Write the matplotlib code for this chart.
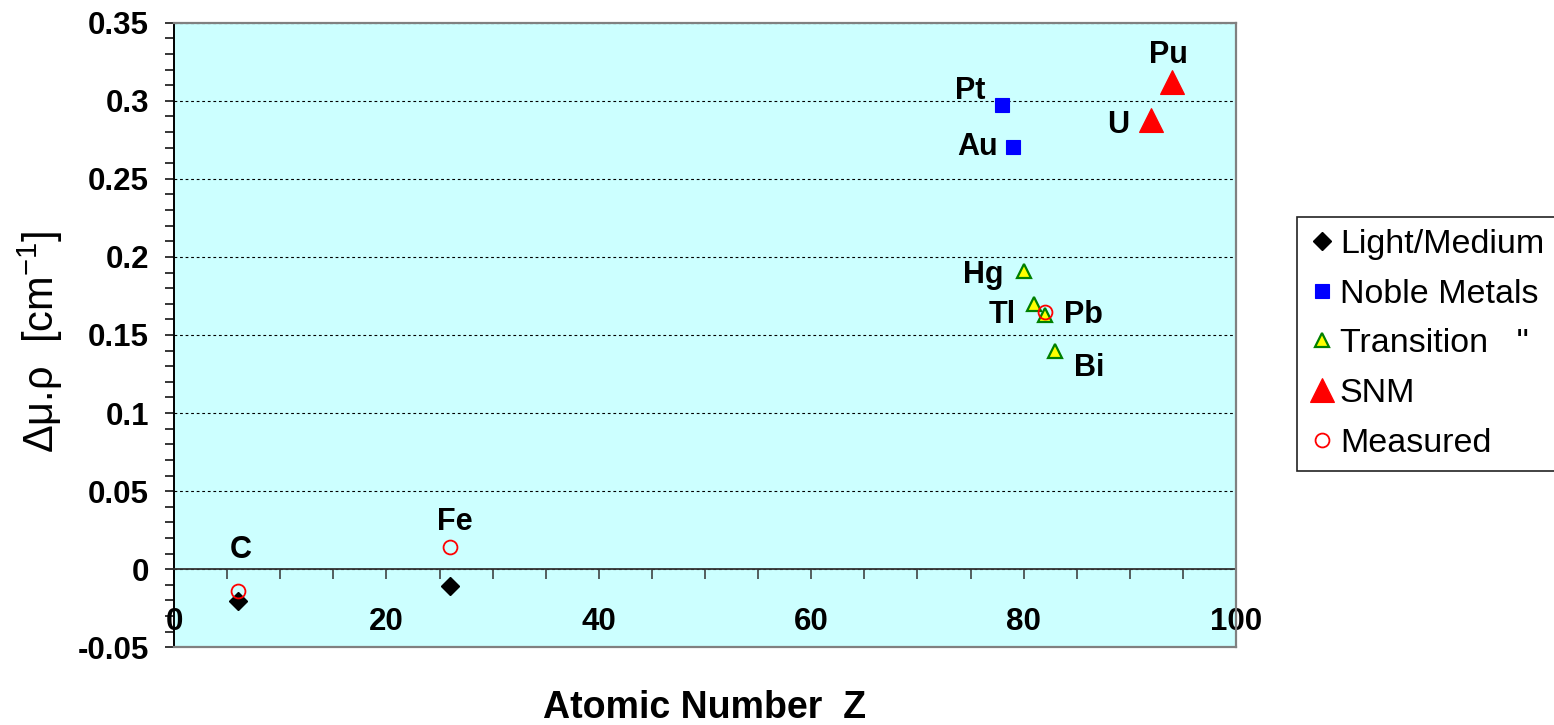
import matplotlib
matplotlib.use("Agg")
import matplotlib.pyplot as plt
from matplotlib.ticker import MultipleLocator, FuncFormatter

plt.rcParams['font.family'] = ['Liberation Sans', 'DejaVu Sans']
plt.rcParams['mathtext.fontset'] = 'custom'
plt.rcParams['mathtext.rm'] = 'Liberation Sans'
plt.rcParams['mathtext.it'] = 'Liberation Sans:italic'
plt.rcParams['mathtext.bf'] = 'Liberation Sans:bold'

# Light / medium elements
light_z = [6, 26]
light_val = [-0.0205, -0.0108]
# Noble metals (Pt, Au)
noble_z = [78, 79]
noble_val = [0.297, 0.2705]
# Transition metals (Hg, Tl, Pb, Bi)
trans_z = [80, 81, 82, 83]
trans_val = [0.191, 0.170, 0.1625, 0.1395]
# Special nuclear material (U, Pu)
snm_z = [92, 94]
snm_val = [0.288, 0.312]
# Measured values (C, Fe, Pb)
meas_z = [6, 26, 82]
meas_val = [-0.0138, 0.0142, 0.165]

series_names = ['Light/Medium', 'Noble Metals', 'Transition   "', 'SNM', 'Measured']
element_names = ['C', 'Fe', 'Pt', 'Au', 'Hg', 'Tl', 'Pb', 'Bi', 'U', 'Pu']

W, H, DPI = 1554, 725, 100
fig = plt.figure(figsize=(W / DPI, H / DPI), dpi=DPI)
ax = fig.add_axes([174 / W, 1 - 647.3 / H, (1236 - 174) / W, (647.3 - 22.7) / H])
ax.set_facecolor('#CCFFFF')

ax.set_xlim(0, 100)
ax.set_ylim(-0.05, 0.35)

# series
h1, = ax.plot(light_z, light_val, ls='none', marker='D', ms=9.5, mfc='black', mec='black', zorder=4)
h2, = ax.plot(noble_z, noble_val, ls='none', marker='s', ms=10.5, mfc='#0000FF', mec='#0000FF', mew=0.8, zorder=4)
h3, = ax.plot(trans_z, trans_val, ls='none', marker='^', ms=10.5, mfc='#FFFF00', mec='#008000', mew=1.6, zorder=4)
h4, = ax.plot(snm_z, snm_val, ls='none', marker='^', ms=17, mfc='#FF0000', mec='#FF0000', mew=0.8, zorder=4)
h5, = ax.plot(meas_z, meas_val, ls='none', marker='o', ms=10, mfc='none', mec='#FF0000', mew=1.3, zorder=5)

# element labels: (anchor point, pixel offset of the text baseline centre)
points = {
    'C': (meas_z[0], meas_val[0], 3, 33),
    'Fe': (meas_z[1], meas_val[1], 5, 17),
    'Pt': (noble_z[0], noble_val[0], -32, 6),
    'Au': (noble_z[1], noble_val[1], -35, -8),
    'Hg': (trans_z[0], trans_val[0], -40, -12),
    'Tl': (trans_z[1], trans_val[1], -32, -19),
    'Pb': (trans_z[2], trans_val[2], 39, -8),
    'Bi': (trans_z[3], trans_val[3], 34, -25),
    'U': (snm_z[0], snm_val[0], -33, -13),
    'Pu': (snm_z[1], snm_val[1], -4, 19),
}
for name in element_names:
    z, v, dx, dy = points[name]
    ax.annotate(name, xy=(z, v), xytext=(dx, dy), textcoords='offset pixels',
                ha='center', va='baseline', fontsize=22, fontweight='bold', zorder=6)

# grid
ax.yaxis.set_major_locator(MultipleLocator(0.05))
ax.yaxis.set_minor_locator(MultipleLocator(0.01))
ax.xaxis.set_major_locator(MultipleLocator(20))
ax.xaxis.set_minor_locator(MultipleLocator(5))
ax.grid(True, axis='y', which='major', color='black', lw=0.8, ls=(0, (2.5, 2.5)))
ax.set_axisbelow(True)

ax.yaxis.set_major_formatter(FuncFormatter(lambda v, p: f"{round(v, 2):g}"))
ax.xaxis.set_major_formatter(FuncFormatter(lambda v, p: f"{round(v):d}"))

# spines: black y axis, x axis crossing at zero, grey plot-area frame
for s in ('top', 'right'):
    ax.spines[s].set_color('#808080')
    ax.spines[s].set_linewidth(1.6)
    ax.spines[s].set_zorder(3)
ax.spines['left'].set_color('black')
ax.spines['left'].set_linewidth(1.4)
ax.spines['bottom'].set_position(('data', 0))
ax.spines['bottom'].set_color('#333333')
ax.spines['bottom'].set_linewidth(1.3)
ax.plot([0, 1], [0, 0], transform=ax.transAxes, color='#808080', lw=1.6,
        clip_on=False, zorder=3)

ax.tick_params(axis='y', which='both', direction='out', length=6.5, width=1.1,
               labelsize=22.5, pad=11.5, color='black')
ax.tick_params(axis='x', which='both', direction='out', length=7.2, width=1.1,
               labelsize=22.5, pad=20, color='#333333')
for lbl in ax.get_xticklabels() + ax.get_yticklabels():
    lbl.set_fontweight('bold')

# axis titles
fig.text(705 / W, 1 - 718 / H, 'Atomic Number  Z', ha='center', va='baseline',
         fontsize=27, fontweight='bold')
fig.text(40 / W, 1 - 342 / H, 'Δμ.ρ  [cm$^{-1}$]', rotation=90,
         ha='center', va='center', fontsize=30)

leg = fig.legend([h1, h2, h3, h4, h5], series_names, loc='upper left',
                 bbox_to_anchor=(1297 / W, 1 - 217 / H), bbox_transform=fig.transFigure,
                 borderaxespad=0, borderpad=0.35, handlelength=0.76, handletextpad=0.15,
                 labelspacing=0.55, fontsize=24.5, numpoints=1, fancybox=False,
                 frameon=True, framealpha=1)
leg.get_frame().set_edgecolor('#222222')
leg.get_frame().set_linewidth(1.2)

fig.savefig('out.png', dpi=DPI)
